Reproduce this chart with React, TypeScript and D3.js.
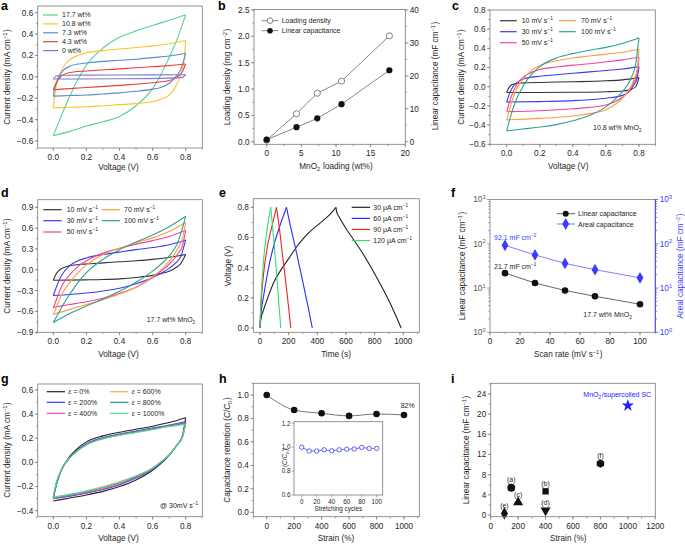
import React from "react";
import * as d3 from "d3";

type Pt = [number, number];
const FONT = "'Liberation Sans', Arial, Helvetica, sans-serif";
const INK = "#1e1e1e";
const FRAME = "#7a7a7a";
const TFS = 8.2;
const LFS = 8.2;
const GFS = 7;

// ---------------- Panel a: CV vs MnO2 loading ----------------
const aLabels = ["17.7 wt%", "10.8 wt%", "7.3 wt%", "4.3 wt%", "0 wt%"];
const aColors = ["#55d48c", "#f8c62a", "#5a8ccc", "#ee3b3b", "#7b7bcc"];
const aUpper: Pt[][] = [
  [[0, -0.55], [0.05, -0.36], [0.1, -0.18], [0.15, -0.02], [0.2, 0.11], [0.3, 0.27], [0.4, 0.37], [0.5, 0.43], [0.6, 0.48], [0.7, 0.53], [0.8, 0.58]],
  [[0, -0.29], [0.01, -0.15], [0.03, -0.02], [0.06, 0.09], [0.1, 0.16], [0.15, 0.2], [0.2, 0.225], [0.3, 0.245], [0.4, 0.26], [0.5, 0.275], [0.6, 0.29], [0.7, 0.31], [0.8, 0.34]],
  [[0, -0.18], [0.01, -0.1], [0.03, -0.01], [0.06, 0.06], [0.1, 0.1], [0.15, 0.12], [0.2, 0.13], [0.3, 0.145], [0.4, 0.155], [0.5, 0.165], [0.6, 0.18], [0.7, 0.195], [0.8, 0.22]],
  [[0, -0.12], [0.02, -0.05], [0.05, 0.01], [0.1, 0.04], [0.2, 0.055], [0.4, 0.075], [0.6, 0.095], [0.7, 0.105], [0.8, 0.12]],
  [[0, -0.02], [0.02, 0.01], [0.05, 0.015], [0.4, 0.017], [0.8, 0.02]],
];
const aLower: Pt[][] = [
  [[0, -0.55], [0.1, -0.51], [0.2, -0.46], [0.3, -0.42], [0.4, -0.37], [0.5, -0.27], [0.6, -0.11], [0.65, 0.02], [0.7, 0.18], [0.75, 0.36], [0.8, 0.58]],
  [[0, -0.29], [0.1, -0.285], [0.2, -0.28], [0.3, -0.27], [0.4, -0.26], [0.5, -0.25], [0.6, -0.23], [0.65, -0.21], [0.7, -0.17], [0.74, -0.09], [0.77, 0.02], [0.79, 0.15], [0.8, 0.34]],
  [[0, -0.18], [0.1, -0.175], [0.2, -0.17], [0.3, -0.16], [0.4, -0.15], [0.5, -0.135], [0.6, -0.115], [0.65, -0.1], [0.7, -0.06], [0.74, 0.0], [0.77, 0.07], [0.8, 0.22]],
  [[0, -0.12], [0.1, -0.11], [0.2, -0.1], [0.4, -0.08], [0.6, -0.055], [0.7, -0.035], [0.75, 0.0], [0.78, 0.05], [0.8, 0.12]],
  [[0, -0.02], [0.4, -0.018], [0.7, -0.012], [0.78, -0.005], [0.8, 0.02]],
];

// ---------------- Panel b ----------------
const bLoading = [0, 4.3, 7.3, 10.8, 17.7];
const bDensity = [0.03, 0.53, 0.92, 1.15, 2.01];
const bLinearCap = [0.6, 4.4, 7.1, 11.4, 21.7];

// ---------------- Panel c: 10.8 wt% scan rates ----------------
const rateLabels = ["10 mV s", "30 mV s", "50 mV s", "70 mV s", "100 mV s"];
const rateColors = ["#333333", "#3a3af0", "#f0449a", "#f9a040", "#2f9e9a"];
const cUpper: Pt[][] = [
  [[0, -0.06], [0.01, -0.02], [0.03, 0.02], [0.06, 0.035], [0.1, 0.04], [0.2, 0.045], [0.4, 0.052], [0.6, 0.062], [0.7, 0.072], [0.8, 0.095]],
  [[0, -0.16], [0.015, -0.08], [0.03, -0.02], [0.06, 0.04], [0.1, 0.08], [0.2, 0.11], [0.3, 0.125], [0.4, 0.14], [0.5, 0.155], [0.6, 0.17], [0.7, 0.185], [0.8, 0.21]],
  [[0, -0.26], [0.015, -0.17], [0.03, -0.09], [0.06, 0.02], [0.1, 0.1], [0.15, 0.15], [0.2, 0.18], [0.3, 0.205], [0.4, 0.225], [0.5, 0.24], [0.6, 0.26], [0.7, 0.28], [0.8, 0.31]],
  [[0, -0.35], [0.015, -0.25], [0.03, -0.16], [0.06, -0.02], [0.1, 0.08], [0.15, 0.17], [0.2, 0.22], [0.3, 0.27], [0.4, 0.3], [0.5, 0.32], [0.6, 0.34], [0.7, 0.36], [0.8, 0.39]],
  [[0, -0.46], [0.02, -0.33], [0.05, -0.17], [0.1, 0.01], [0.15, 0.13], [0.2, 0.21], [0.3, 0.3], [0.4, 0.345], [0.5, 0.38], [0.6, 0.41], [0.7, 0.45], [0.8, 0.51]],
];
const cLower: Pt[][] = [
  [[0, -0.06], [0.2, -0.06], [0.4, -0.058], [0.6, -0.052], [0.7, -0.045], [0.75, -0.03], [0.78, 0.0], [0.8, 0.095]],
  [[0, -0.16], [0.2, -0.155], [0.4, -0.145], [0.5, -0.135], [0.6, -0.12], [0.7, -0.09], [0.74, -0.05], [0.77, 0.02], [0.79, 0.1], [0.8, 0.21]],
  [[0, -0.26], [0.2, -0.25], [0.4, -0.23], [0.5, -0.215], [0.6, -0.19], [0.65, -0.16], [0.7, -0.11], [0.74, -0.04], [0.77, 0.05], [0.79, 0.15], [0.8, 0.31]],
  [[0, -0.345], [0.2, -0.33], [0.3, -0.32], [0.4, -0.305], [0.5, -0.28], [0.6, -0.24], [0.65, -0.19], [0.7, -0.12], [0.74, -0.03], [0.77, 0.08], [0.79, 0.2], [0.8, 0.39]],
  [[0, -0.46], [0.1, -0.44], [0.2, -0.42], [0.3, -0.395], [0.4, -0.355], [0.5, -0.3], [0.6, -0.21], [0.65, -0.14], [0.7, -0.05], [0.75, 0.08], [0.78, 0.24], [0.8, 0.51]],
];

// ---------------- Panel d: 17.7 wt% scan rates ----------------
const dUpper: Pt[][] = [
  [[0, -0.15], [0.015, -0.07], [0.03, -0.02], [0.06, 0.03], [0.1, 0.06], [0.2, 0.085], [0.3, 0.1], [0.4, 0.115], [0.5, 0.13], [0.6, 0.15], [0.7, 0.18], [0.8, 0.22]],
  [[0, -0.37], [0.02, -0.24], [0.05, -0.08], [0.1, 0.06], [0.15, 0.13], [0.2, 0.17], [0.3, 0.22], [0.4, 0.255], [0.5, 0.29], [0.6, 0.32], [0.7, 0.36], [0.8, 0.43]],
  [[0, -0.55], [0.02, -0.42], [0.05, -0.24], [0.1, -0.07], [0.15, 0.05], [0.2, 0.13], [0.3, 0.24], [0.4, 0.31], [0.5, 0.37], [0.6, 0.42], [0.7, 0.48], [0.8, 0.57]],
  [[0, -0.65], [0.02, -0.53], [0.05, -0.36], [0.1, -0.18], [0.15, -0.04], [0.2, 0.07], [0.3, 0.22], [0.4, 0.31], [0.5, 0.39], [0.6, 0.46], [0.7, 0.55], [0.8, 0.68]],
  [[0, -0.76], [0.03, -0.63], [0.06, -0.5], [0.1, -0.35], [0.15, -0.18], [0.2, -0.04], [0.3, 0.15], [0.4, 0.29], [0.5, 0.4], [0.6, 0.5], [0.7, 0.62], [0.8, 0.77]],
];
const dLower: Pt[][] = [
  [[0, -0.15], [0.2, -0.145], [0.3, -0.14], [0.4, -0.13], [0.5, -0.11], [0.6, -0.08], [0.65, -0.055], [0.7, -0.02], [0.74, 0.03], [0.77, 0.09], [0.8, 0.22]],
  [[0, -0.37], [0.1, -0.355], [0.2, -0.335], [0.3, -0.305], [0.4, -0.265], [0.5, -0.2], [0.6, -0.11], [0.65, -0.05], [0.7, 0.02], [0.74, 0.1], [0.77, 0.19], [0.8, 0.43]],
  [[0, -0.54], [0.1, -0.5], [0.2, -0.46], [0.3, -0.41], [0.4, -0.34], [0.5, -0.25], [0.6, -0.11], [0.65, -0.02], [0.7, 0.08], [0.75, 0.22], [0.78, 0.34], [0.8, 0.57]],
  [[0, -0.64], [0.1, -0.57], [0.2, -0.5], [0.3, -0.43], [0.4, -0.35], [0.5, -0.25], [0.6, -0.1], [0.65, 0.0], [0.7, 0.12], [0.75, 0.3], [0.78, 0.45], [0.8, 0.68]],
  [[0, -0.76], [0.1, -0.63], [0.2, -0.52], [0.3, -0.42], [0.4, -0.31], [0.5, -0.18], [0.6, -0.02], [0.65, 0.08], [0.7, 0.2], [0.75, 0.38], [0.8, 0.77]],
];

// ---------------- Panel e: charge/discharge ----------------
const eLabels = ["30 μA cm", "60 μA cm", "90 μA cm", "120 μA cm"];
const eColors = ["#222222", "#2b2bff", "#ee2222", "#33dd77"];
const eCharge: Pt[][] = [
  [[0, 0.0], [5, 0.05], [25, 0.12], [50, 0.19], [100, 0.31], [150, 0.39], [200, 0.46], [250, 0.53], [300, 0.59], [350, 0.64], [400, 0.68], [450, 0.72], [500, 0.765], [530, 0.8]],
  [[0, 0.0], [3, 0.06], [10, 0.12], [30, 0.24], [60, 0.4], [100, 0.56], [140, 0.68], [185, 0.8]],
  [[0, 0.0], [3, 0.08], [10, 0.2], [30, 0.4], [60, 0.58], [90, 0.7], [115, 0.8]],
  [[0, 0.0], [3, 0.1], [10, 0.25], [25, 0.45], [45, 0.62], [60, 0.72], [75, 0.8]],
];
const eDischarge: Pt[][] = [
  [[530, 0.8], [535, 0.77], [550, 0.74], [600, 0.66], [650, 0.59], [700, 0.52], [800, 0.36], [900, 0.18], [985, 0.0]],
  [[185, 0.8], [200, 0.73], [250, 0.52], [300, 0.3], [340, 0.12], [365, 0.0]],
  [[115, 0.8], [130, 0.7], [160, 0.46], [190, 0.22], [215, 0.0]],
  [[75, 0.8], [90, 0.65], [110, 0.43], [130, 0.18], [145, 0.0]],
];

// ---------------- Panel f ----------------
const fRate = [10, 30, 50, 70, 100];
const fLinear = [21.7, 13, 8.8, 6.5, 4.3];
const fAreal = [92.1, 56, 36, 26, 17];

// ---------------- Panel g: strain CVs ----------------
const gLabels = ["0%", "200%", "400%", "600%", "800%", "1000%"];
const gColors = ["#222222", "#3535f5", "#f040b0", "#f9a74e", "#2a9a86", "#4ddc9a"];
const gUpper: Pt[][] = [
  [[0, -0.3], [0.02, -0.18], [0.05, -0.06], [0.1, 0.05], [0.15, 0.12], [0.2, 0.17], [0.3, 0.22], [0.4, 0.25], [0.5, 0.275], [0.6, 0.3], [0.7, 0.33], [0.8, 0.37]],
  [[0, -0.29], [0.02, -0.17], [0.05, -0.06], [0.1, 0.04], [0.15, 0.11], [0.2, 0.155], [0.3, 0.205], [0.4, 0.235], [0.5, 0.26], [0.6, 0.285], [0.7, 0.31], [0.8, 0.34]],
  [[0, -0.29], [0.02, -0.17], [0.05, -0.06], [0.1, 0.04], [0.15, 0.105], [0.2, 0.15], [0.3, 0.2], [0.4, 0.23], [0.5, 0.255], [0.6, 0.28], [0.7, 0.305], [0.8, 0.33]],
  [[0, -0.28], [0.02, -0.16], [0.05, -0.055], [0.1, 0.04], [0.15, 0.1], [0.2, 0.145], [0.3, 0.195], [0.4, 0.225], [0.5, 0.25], [0.6, 0.275], [0.7, 0.3], [0.8, 0.32]],
  [[0, -0.285], [0.02, -0.165], [0.05, -0.055], [0.1, 0.04], [0.15, 0.102], [0.2, 0.148], [0.3, 0.198], [0.4, 0.228], [0.5, 0.252], [0.6, 0.277], [0.7, 0.302], [0.8, 0.325]],
  [[0, -0.28], [0.02, -0.16], [0.05, -0.055], [0.1, 0.038], [0.15, 0.1], [0.2, 0.145], [0.3, 0.195], [0.4, 0.225], [0.5, 0.248], [0.6, 0.272], [0.7, 0.297], [0.8, 0.315]],
];
const gLower: Pt[][] = [
  [[0, -0.32], [0.1, -0.295], [0.2, -0.27], [0.3, -0.24], [0.4, -0.2], [0.5, -0.145], [0.6, -0.065], [0.65, -0.01], [0.7, 0.06], [0.75, 0.15], [0.78, 0.22], [0.8, 0.37]],
  [[0, -0.3], [0.1, -0.28], [0.2, -0.255], [0.3, -0.225], [0.4, -0.185], [0.5, -0.13], [0.6, -0.058], [0.65, -0.005], [0.7, 0.06], [0.75, 0.15], [0.78, 0.21], [0.8, 0.34]],
  [[0, -0.3], [0.1, -0.275], [0.2, -0.25], [0.3, -0.22], [0.4, -0.18], [0.5, -0.125], [0.6, -0.055], [0.65, 0.0], [0.7, 0.06], [0.75, 0.15], [0.78, 0.21], [0.8, 0.33]],
  [[0, -0.29], [0.1, -0.265], [0.2, -0.235], [0.3, -0.2], [0.4, -0.16], [0.5, -0.11], [0.6, -0.045], [0.65, 0.005], [0.7, 0.065], [0.75, 0.15], [0.78, 0.21], [0.8, 0.32]],
  [[0, -0.295], [0.1, -0.27], [0.2, -0.243], [0.3, -0.21], [0.4, -0.17], [0.5, -0.118], [0.6, -0.05], [0.65, 0.002], [0.7, 0.062], [0.75, 0.15], [0.78, 0.21], [0.8, 0.325]],
  [[0, -0.29], [0.1, -0.265], [0.2, -0.238], [0.3, -0.205], [0.4, -0.165], [0.5, -0.113], [0.6, -0.047], [0.65, 0.004], [0.7, 0.064], [0.75, 0.15], [0.78, 0.21], [0.8, 0.315]],
];

// ---------------- Panel h ----------------
const hStrain = [0, 200, 400, 600, 800, 1000];
const hRetention = [1.0, 0.872, 0.844, 0.822, 0.838, 0.83];
const hCycles = [0, 10, 20, 30, 40, 50, 60, 70, 80, 90, 100];
const hCycleRet = [1.0, 0.968, 0.968, 0.978, 0.97, 0.978, 0.983, 0.985, 0.998, 0.99, 0.99];

// ---------------- Panel i ----------------
const iLabels = ["(a)", "(b)", "(c)", "(d)", "(e)", "(f)"];
const iStrain = [150, 400, 200, 400, 100, 800];
const iCap = [5.4, 4.7, 2.5, 0.9, 0.3, 10.2];
const iShapes = ["circle", "square", "up", "down", "diamond", "hex"];
const iStar: Pt = [1000, 21.7];

// ---------------- helpers ----------------
function seq(a: number, b: number, s: number) {
  const out: number[] = [];
  for (let i = 0; a + i * s <= b + 1e-9; i++) out.push(+(a + i * s).toFixed(6));
  return out;
}
const fmt = (p: number) => (v: number) => d3.format(`.${p}f`)(v).replace("-", "\u2212");
const lin = (d0: number, r0: number, d1: number, r1: number) => d3.scaleLinear().domain([d0, d1]).range([r0, r1]);

const Sup = ({ t }: { t: string }) => (
  <>
    <tspan dy={-3} fontSize="0.68em">{t}</tspan>
    <tspan dy={3}>{"\u200A"}</tspan>
  </>
);
const Sub = ({ t }: { t: string }) => (
  <>
    <tspan dy={2} fontSize="0.68em">{t}</tspan>
    <tspan dy={-2}>{"\u200A"}</tspan>
  </>
);

function Frame({ b, stroke = FRAME }: { b: number[]; stroke?: string }) {
  const [x0, x1, y0, y1] = b;
  return <rect x={x0} y={y0} width={x1 - x0} height={y1 - y0} fill="none" stroke={stroke} strokeWidth={0.8} />;
}

function XTicks({ sx, y, major, minor = [], f, dy = 12 }: any) {
  return (
    <g>
      {minor.map((v: number, i: number) => (
        <line key={"m" + i} x1={sx(v)} x2={sx(v)} y1={y} y2={y + 1.8} stroke={FRAME} strokeWidth={0.7} />
      ))}
      {major.map((v: number, i: number) => (
        <line key={"M" + i} x1={sx(v)} x2={sx(v)} y1={y} y2={y + 3} stroke={FRAME} strokeWidth={0.7} />
      ))}
      {major.map((v: number, i: number) => (
        <text key={"t" + i} x={sx(v)} y={y + dy} textAnchor="middle" fontSize={TFS} fill={INK}>
          {f(v)}
        </text>
      ))}
    </g>
  );
}

function YTicks({ sy, x, major, minor = [], f, side = "left", color = INK, tick = FRAME }: any) {
  const s = side === "left" ? -1 : 1;
  return (
    <g>
      {minor.map((v: number, i: number) => (
        <line key={"m" + i} x1={x} x2={x + s * 1.8} y1={sy(v)} y2={sy(v)} stroke={tick} strokeWidth={0.7} />
      ))}
      {major.map((v: number, i: number) => (
        <line key={"M" + i} x1={x} x2={x + s * 3} y1={sy(v)} y2={sy(v)} stroke={tick} strokeWidth={0.7} />
      ))}
      {major.map((v: number, i: number) => (
        <text key={"t" + i} x={x + s * 4.5} y={sy(v) + 2.9} textAnchor={side === "left" ? "end" : "start"} fontSize={TFS} fill={color}>
          {f(v)}
        </text>
      ))}
    </g>
  );
}

function VTitle({ x, y, children, color = INK }: any) {
  return (
    <text transform={`translate(${x},${y}) rotate(-90)`} textAnchor="middle" fontSize={LFS} fill={color}>
      {children}
    </text>
  );
}
function HTitle({ x, y, children }: any) {
  return (
    <text x={x} y={y} textAnchor="middle" fontSize={LFS} fill={INK}>
      {children}
    </text>
  );
}
function Letter({ x, y, t }: any) {
  return (
    <text x={x} y={y} fontSize={12.5} fontWeight="bold" fill="#000">
      {t}
    </text>
  );
}

function Loop({ up, lo, sx, sy, color, w = 1.1 }: any) {
  const line = d3.line<Pt>().x((d) => sx(d[0])).y((d) => sy(d[1])).curve(d3.curveMonotoneX);
  return (
    <g fill="none" stroke={color} strokeWidth={w}>
      <path d={line(up) || ""} />
      <path d={line(lo) || ""} />
    </g>
  );
}

function LegendLine({ x0, x1, y, color, tx, children }: any) {
  return (
    <g>
      <line x1={x0} x2={x1} y1={y} y2={y} stroke={color} strokeWidth={1.2} />
      <text x={tx} y={y + 2.4} fontSize={GFS} fill={INK}>
        {children}
      </text>
    </g>
  );
}

const CurrentTitle = () => (
  <>
    Current density (mA cm<Sup t={"\u22121"} />)
  </>
);

// ---------------- panels ----------------
function PanelA() {
  const b = [37.7, 202.3, 6, 148];
  const sx = lin(0, 53.3, 0.8, 185.7);
  const sy = lin(-0.6, 141, 0.6, 12.7);
  return (
    <g>
      <Letter x={1} y={9.5} t="a" />
      {aUpper.map((u, i) => (
        <Loop key={i} up={u} lo={aLower[i]} sx={sx} sy={sy} color={aColors[i]} />
      ))}
      <Frame b={b} />
      <XTicks sx={sx} y={b[3]} major={seq(0, 0.8, 0.2)} minor={seq(-0.1, 0.9, 0.1)} f={fmt(1)} />
      <YTicks sy={sy} x={b[0]} major={seq(-0.6, 0.6, 0.2)} minor={seq(-0.6, 0.6, 0.1)} f={fmt(1)} />
      {aLabels.map((l, i) => (
        <LegendLine key={i} x0={43} x1={58} y={15 + i * 8.9} color={aColors[i]} tx={62}>
          {l}
        </LegendLine>
      ))}
      <VTitle x={10} y={77}>
        <CurrentTitle />
      </VTitle>
      <HTitle x={118.5} y={169.5}>Voltage (V)</HTitle>
    </g>
  );
}

function PanelB() {
  const b = [254, 405.3, 9.5, 144.3];
  const sx = lin(0, 266.7, 20, 405.3);
  const syL = lin(0, 141.7, 2.5, 10);
  const syR = lin(0, 141.7, 40, 10);
  const dPath = d3.line<number>().x((_, i) => sx(bLoading[i])).y((d) => syL(d))(bDensity) || "";
  const cPath = d3.line<number>().x((_, i) => sx(bLoading[i])).y((d) => syR(d))(bLinearCap) || "";
  return (
    <g>
      <Letter x={218} y={9.5} t="b" />
      <path d={dPath} fill="none" stroke="#777" strokeWidth={0.9} />
      <path d={cPath} fill="none" stroke="#777" strokeWidth={0.9} />
      {bDensity.map((v, i) => (
        <circle key={"d" + i} cx={sx(bLoading[i])} cy={syL(v)} r={3.1} fill="#fff" stroke="#777" strokeWidth={0.9} />
      ))}
      {bLinearCap.map((v, i) => (
        <circle key={"c" + i} cx={sx(bLoading[i])} cy={syR(v)} r={3.1} fill="#111" />
      ))}
      <Frame b={b} />
      <XTicks sx={sx} y={b[3]} major={seq(0, 20, 5)} minor={seq(0, 20, 2.5)} f={fmt(0)} />
      <YTicks sy={syL} x={b[0]} major={seq(0, 2.5, 0.5)} minor={seq(0, 2.5, 0.25)} f={fmt(1)} />
      <YTicks sy={syR} x={b[1]} side="right" major={seq(0, 40, 10)} minor={seq(0, 40, 5)} f={fmt(0)} />
      <line x1={261.7} x2={278.3} y1={20.7} y2={20.7} stroke="#777" strokeWidth={0.9} />
      <circle cx={270} cy={20.7} r={2.8} fill="#fff" stroke="#777" strokeWidth={0.9} />
      <text x={281.7} y={23.1} fontSize={GFS} fill={INK}>Loading density</text>
      <line x1={261.7} x2={278.3} y1={30.7} y2={30.7} stroke="#777" strokeWidth={0.9} />
      <circle cx={270} cy={30.7} r={2.8} fill="#111" />
      <text x={281.7} y={33.1} fontSize={GFS} fill={INK}>Linear capacitance</text>
      <VTitle x={230} y={77}>
        Loading density (mg cm<Sup t={"\u22122"} />)
      </VTitle>
      <VTitle x={438} y={76}>
        Linear capacitance (mF cm<Sup t={"\u22121"} />)
      </VTitle>
      <HTitle x={336} y={169}>
        MnO<Sub t="2" /> loading (wt%)
      </HTitle>
    </g>
  );
}

function RateLegend({ rows, x1, x2, t1, t2, len }: any) {
  const items = [
    [0, 0], [0, 1], [0, 2], [1, 0], [1, 1],
  ];
  return (
    <g>
      {items.map(([c, r], i) => {
        const x0 = c === 0 ? x1 : x2;
        const tx = c === 0 ? t1 : t2;
        return (
          <LegendLine key={i} x0={x0} x1={x0 + len} y={rows[r]} color={rateColors[i]} tx={tx}>
            {rateLabels[i]}
            <Sup t={"\u22121"} />
          </LegendLine>
        );
      })}
    </g>
  );
}

function PanelC() {
  const b = [490, 655.3, 10, 144.3];
  const sx = lin(0, 506.7, 0.8, 639);
  const sy = lin(0.8, 10, -0.6, 144.3);
  return (
    <g>
      <Letter x={452} y={9.5} t="c" />
      {cUpper.map((u, i) => (
        <Loop key={i} up={u} lo={cLower[i]} sx={sx} sy={sy} color={rateColors[i]} />
      ))}
      <Frame b={b} />
      <XTicks sx={sx} y={b[3]} major={seq(0, 0.8, 0.2)} minor={seq(-0.1, 0.9, 0.1)} f={fmt(1)} />
      <YTicks sy={sy} x={b[0]} major={seq(-0.6, 0.8, 0.2)} minor={seq(-0.6, 0.8, 0.1)} f={fmt(1)} />
      <RateLegend rows={[20.7, 31.7, 42.7]} x1={500} x2={559} t1={521.7} t2={581} len={16.7} />
      <text x={593} y={130} fontSize={GFS} fill={INK}>
        10.8 wt% MnO<Sub t="2" />
      </text>
      <VTitle x={464} y={77}>
        <CurrentTitle />
      </VTitle>
      <HTitle x={568.3} y={168.5}>Voltage (V)</HTitle>
    </g>
  );
}

function PanelD() {
  const b = [37.7, 202.3, 199.7, 332.3];
  const sx = lin(0, 53.3, 0.8, 185.7);
  const sy = lin(0.9, 207.3, -0.9, 332.3);
  return (
    <g>
      <Letter x={1} y={197} t="d" />
      {dUpper.map((u, i) => (
        <Loop key={i} up={u} lo={dLower[i]} sx={sx} sy={sy} color={rateColors[i]} />
      ))}
      <Frame b={b} />
      <XTicks sx={sx} y={b[3]} major={seq(0, 0.8, 0.2)} minor={seq(-0.1, 0.9, 0.1)} f={fmt(1)} />
      <YTicks sy={sy} x={b[0]} major={seq(-0.9, 0.9, 0.3)} minor={seq(-0.9, 0.9, 0.15)} f={fmt(1)} />
      <RateLegend rows={[209.7, 220.7, 232]} x1={43.3} x2={101.7} t1={66.7} t2={124} len={18.3} />
      <text x={146.7} y={322} fontSize={GFS} fill={INK}>
        17.7 wt% MnO<Sub t="2" />
      </text>
      <VTitle x={10} y={266}>
        <CurrentTitle />
      </VTitle>
      <HTitle x={118.5} y={356.5}>Voltage (V)</HTitle>
    </g>
  );
}

function PanelE() {
  const b = [253.3, 419.3, 198.7, 332.3];
  const sx = lin(0, 260, 1000, 403.3);
  const sy = lin(0.8, 207.3, 0, 328);
  const line = d3.line<Pt>().x((d) => sx(d[0])).y((d) => sy(d[1])).curve(d3.curveMonotoneX);
  return (
    <g>
      <Letter x={219} y={197} t="e" />
      {eCharge.map((c, i) => (
        <g key={i} fill="none" stroke={eColors[i]} strokeWidth={1.1}>
          <path d={line(c) || ""} />
          <path d={line(eDischarge[i]) || ""} />
        </g>
      ))}
      <Frame b={b} />
      <XTicks sx={sx} y={b[3]} major={seq(0, 1000, 200)} minor={seq(0, 1100, 100)} f={fmt(0)} />
      <YTicks sy={sy} x={b[0]} major={seq(0, 0.8, 0.2)} minor={seq(0, 0.8, 0.1)} f={fmt(1)} />
      {eLabels.map((l, i) => (
        <LegendLine key={i} x0={351.7} x1={370} y={207.3 + i * 11.1} color={eColors[i]} tx={373.3}>
          {l}
          <Sup t={"\u22121"} />
        </LegendLine>
      ))}
      <VTitle x={231} y={266}>Voltage (V)</VTitle>
      <HTitle x={336} y={357}>Time (s)</HTitle>
    </g>
  );
}

function PanelF() {
  const b = [490, 655.3, 199.5, 332.3];
  const sx = lin(0, 490, 100, 640);
  const sy = d3.scaleLog().domain([1, 1000]).range([332.3, 199.5]);
  const blue = "#3b3bff";
  const minor: number[] = [];
  [1, 10, 100].forEach((d) => seq(2, 9, 1).forEach((k) => minor.push(d * k)));
  const logF = (v: number) => (
    <>
      10
      <tspan dy={-3.2} fontSize={5.6}>{Math.round(Math.log10(v))}</tspan>
    </>
  );
  const lineL = d3.line<number>().x((_, i) => sx(fRate[i])).y((d) => sy(d))(fLinear) || "";
  const lineA = d3.line<number>().x((_, i) => sx(fRate[i])).y((d) => sy(d))(fAreal) || "";
  const diamond = d3.symbol().type(d3.symbolDiamond).size(40)() || "";
  return (
    <g>
      <Letter x={451} y={197} t="f" />
      <path d={lineL} fill="none" stroke="#555" strokeWidth={0.9} />
      <path d={lineA} fill="none" stroke="#7070ff" strokeWidth={0.9} />
      {fLinear.map((v, i) => (
        <circle key={"l" + i} cx={sx(fRate[i])} cy={sy(v)} r={3.3} fill="#111" />
      ))}
      {fAreal.map((v, i) => (
        <path key={"a" + i} d={diamond} transform={`translate(${sx(fRate[i])},${sy(v)})`} fill={blue} />
      ))}
      <Frame b={b} />
      <line x1={b[1]} x2={b[1]} y1={b[2]} y2={b[3]} stroke={blue} strokeWidth={0.9} />
      <XTicks sx={sx} y={b[3]} major={seq(0, 100, 20)} minor={seq(0, 110, 10)} f={fmt(0)} />
      <YTicks sy={sy} x={b[0]} major={[1, 10, 100, 1000]} minor={minor} f={logF} color="#555" />
      <YTicks sy={sy} x={b[1]} side="right" major={[1, 10, 100, 1000]} minor={minor} f={logF} color={blue} tick={blue} />
      <line x1={556.7} x2={575} y1={213.7} y2={213.7} stroke="#555" strokeWidth={0.9} />
      <circle cx={565.7} cy={213.7} r={3} fill="#111" />
      <text x={578} y={216.2} fontSize={GFS} fill={INK}>Linear capacitance</text>
      <line x1={556.7} x2={575} y1={224} y2={224} stroke="#7070ff" strokeWidth={0.9} />
      <path d={diamond} transform="translate(565.7,224)" fill={blue} />
      <text x={578} y={226.5} fontSize={GFS} fill={INK}>Areal capacitance</text>
      <text x={494} y={239.5} fontSize={GFS} fill={blue}>
        92.1 mF cm<Sup t={"\u22122"} />
      </text>
      <text x={494} y={268.5} fontSize={GFS} fill={INK}>
        21.7 mF cm<Sup t={"\u22121"} />
      </text>
      <text x={583.3} y={317} fontSize={GFS} fill={INK}>
        17.7 wt% MnO<Sub t="2" />
      </text>
      <VTitle x={465} y={266}>
        Linear capacitance (mF cm<Sup t={"\u22121"} />)
      </VTitle>
      <VTitle x={683} y={266} color={blue}>
        Areal capacitance (mF cm<Sup t={"\u22122"} />)
      </VTitle>
      <HTitle x={568.3} y={356.5}>
        Scan rate (mV s<Sup t={"\u22121"} />)
      </HTitle>
    </g>
  );
}

function PanelG() {
  const b = [37.7, 202.3, 384, 516.7];
  const sx = lin(0, 53.3, 0.8, 185.7);
  const sy = lin(0.6, 390, -0.4, 510.7);
  const order = [0, 3, 1, 4, 2, 5];
  const rows = [391.7, 402.3, 413.3];
  return (
    <g>
      <Letter x={1} y={383} t="g" />
      {gUpper.map((u, i) => (
        <Loop key={i} up={u} lo={gLower[i]} sx={sx} sy={sy} color={gColors[i]} />
      ))}
      <Frame b={b} />
      <XTicks sx={sx} y={b[3]} major={seq(0, 0.8, 0.2)} minor={seq(-0.1, 0.9, 0.1)} f={fmt(1)} />
      <YTicks sy={sy} x={b[0]} major={seq(-0.4, 0.6, 0.2)} minor={seq(-0.4, 0.6, 0.1)} f={fmt(1)} />
      {order.map((k, j) => {
        const c = j % 2;
        const r = Math.floor(j / 2);
        const x0 = c === 0 ? 46.7 : 110;
        const tx = c === 0 ? 68.3 : 131.7;
        return (
          <LegendLine key={k} x0={x0} x1={x0 + 18.3} y={rows[r]} color={gColors[k]} tx={tx}>
            <tspan fontStyle="italic">ε</tspan> = {gLabels[k]}
          </LegendLine>
        );
      })}
      <text x={160} y={508} fontSize={GFS} fill={INK}>
        @ 30mV s<Sup t={"\u22121"} />
      </text>
      <VTitle x={10} y={450}>
        <CurrentTitle />
      </VTitle>
      <HTitle x={118.5} y={540.5}>Voltage (V)</HTitle>
    </g>
  );
}

function PanelH() {
  const b = [253.3, 419.3, 383.3, 516.7];
  const sx = lin(0, 266.7, 1000, 404);
  const sy = lin(1, 395, 0, 512.3);
  const path = d3.line<number>().x((_, i) => sx(hStrain[i])).y((d) => sy(d)).curve(d3.curveMonotoneX)(hRetention) || "";
  const ib = [294, 382.7, 421.7, 495];
  const ix = lin(0, 301.7, 100, 376.7);
  const iy = lin(1.2, 423.3, 0.6, 495);
  const ipath = d3.line<number>().x((_, i) => ix(hCycles[i])).y((d) => iy(d))(hCycleRet) || "";
  return (
    <g>
      <Letter x={219} y={383} t="h" />
      <path d={path} fill="none" stroke="#666" strokeWidth={0.9} />
      {hRetention.map((v, i) => (
        <circle key={i} cx={sx(hStrain[i])} cy={sy(v)} r={3.3} fill="#111" />
      ))}
      <Frame b={b} />
      <XTicks sx={sx} y={b[3]} major={seq(0, 1000, 200)} minor={seq(-100, 1100, 100)} f={fmt(0)} />
      <YTicks sy={sy} x={b[0]} major={seq(0, 1, 0.2)} minor={seq(0, 1.1, 0.1)} f={fmt(1)} />
      <text x={407.7} y={407.5} textAnchor="middle" fontSize={GFS} fill={INK}>82%</text>
      <rect x={ib[0]} y={ib[2]} width={ib[1] - ib[0]} height={ib[3] - ib[2]} fill="#fff" />
      <path d={ipath} fill="none" stroke="#4a4aee" strokeWidth={0.8} />
      {hCycleRet.map((v, i) => (
        <circle key={i} cx={ix(hCycles[i])} cy={iy(v)} r={2.2} fill="#fff" stroke="#3a3af0" strokeWidth={0.8} />
      ))}
      <Frame b={ib} />
      {seq(0, 100, 20).map((v, i) => (
        <g key={i}>
          <line x1={ix(v)} x2={ix(v)} y1={ib[3]} y2={ib[3] + 2.5} stroke={FRAME} strokeWidth={0.6} />
          <text x={ix(v)} y={ib[3] + 8.5} textAnchor="middle" fontSize={6.3} fill={INK}>{v}</text>
        </g>
      ))}
      {seq(0.6, 1.2, 0.2).map((v, i) => (
        <g key={i}>
          <line x1={ib[0]} x2={ib[0] - 2.5} y1={iy(v)} y2={iy(v)} stroke={FRAME} strokeWidth={0.6} />
          <text x={ib[0] - 3.5} y={iy(v) + 2.2} textAnchor="end" fontSize={6.3} fill={INK}>{fmt(1)(v)}</text>
        </g>
      ))}
      <text x={338.3} y={511} textAnchor="middle" fontSize={6.3} fill={INK}>Stretching cycles</text>
      <text transform="translate(287,458) rotate(-90)" textAnchor="middle" fontSize={6.3} fill={INK}>
        (<tspan fontStyle="italic">C</tspan>/<tspan fontStyle="italic">C</tspan>
        <Sub t="0" />)
      </text>
      <VTitle x={230} y={450}>
        Capacitance retention (<tspan fontStyle="italic">C</tspan>/<tspan fontStyle="italic">C</tspan>
        <Sub t="0" />)
      </VTitle>
      <HTitle x={336} y={541}>Strain (%)</HTitle>
    </g>
  );
}

const hexagon = {
  draw(ctx: any, size: number) {
    const r = Math.sqrt(size / 2.598);
    for (let k = 0; k < 6; k++) {
      const a = (Math.PI / 3) * k + Math.PI / 6;
      const px = r * Math.cos(a);
      const py = r * Math.sin(a);
      if (k === 0) ctx.moveTo(px, py);
      else ctx.lineTo(px, py);
    }
    ctx.closePath();
  },
};

function PanelI() {
  const b = [490.7, 655.3, 383.3, 516.7];
  const sx = lin(0, 490.7, 1200, 655.3);
  const sy = lin(24, 394, 0, 515);
  const shapeOf = (s: string) => {
    if (s === "circle") return d3.symbol().type(d3.symbolCircle).size(48)() || "";
    if (s === "square") return d3.symbol().type(d3.symbolSquare).size(40)() || "";
    if (s === "up" || s === "down") return d3.symbol().type(d3.symbolTriangle).size(44)() || "";
    if (s === "diamond") return d3.symbol().type(d3.symbolDiamond).size(44)() || "";
    return d3.symbol().type(hexagon as any).size(48)() || "";
  };
  const star = d3.symbol().type(d3.symbolStar).size(48)() || "";
  return (
    <g>
      <Letter x={451} y={383} t="i" />
      {iCap.map((v, i) => (
        <g key={i}>
          <path
            d={shapeOf(iShapes[i])}
            transform={`translate(${sx(iStrain[i])},${sy(v)})${iShapes[i] === "down" ? " rotate(180)" : ""}`}
            fill="#111"
          />
          <text x={sx(iStrain[i])} y={sy(v) - 5.3} textAnchor="middle" fontSize={GFS} fill={INK}>
            {iLabels[i]}
          </text>
        </g>
      ))}
      <path d={star} transform={`translate(${sx(iStar[0])},${sy(iStar[1])})`} fill="#2020ff" />
      <text x={583.3} y={397} fontSize={GFS} fill="#2020ff">
        MnO<Sub t="2" />/supercoiled SC
      </text>
      <Frame b={b} />
      <XTicks sx={sx} y={b[3]} major={seq(0, 1200, 200)} minor={seq(0, 1200, 100)} f={fmt(0)} />
      <YTicks sy={sy} x={b[0]} major={seq(0, 24, 4)} minor={seq(0, 26, 2)} f={fmt(0)} />
      <VTitle x={469} y={450}>
        Linear capacitance (mF cm<Sup t={"\u22121"} />)
      </VTitle>
      <HTitle x={568.3} y={541}>Strain (%)</HTitle>
    </g>
  );
}

export default function App() {
  return (
    <svg
      width={685}
      height={544}
      viewBox="0 0 685 544"
      style={{ position: "absolute", left: 0, top: 0, display: "block", background: "#fff" }}
      fontFamily={FONT}
    >
      <rect width={685} height={544} fill="#fff" />
      <PanelA />
      <PanelB />
      <PanelC />
      <PanelD />
      <PanelE />
      <PanelF />
      <PanelG />
      <PanelH />
      <PanelI />
    </svg>
  );
}
